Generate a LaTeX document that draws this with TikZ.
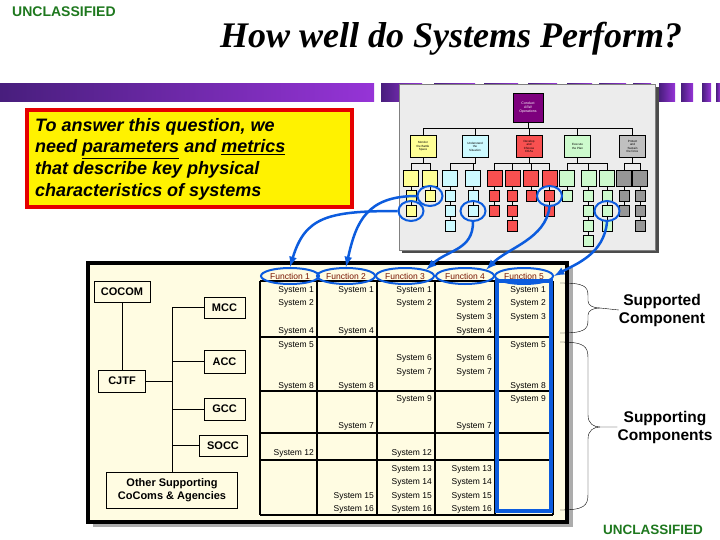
\documentclass[tikz,border=0pt]{standalone}
\usepackage{fontspec}
\setmainfont{Liberation Serif}
\setsansfont{Liberation Sans}
\usetikzlibrary{arrows,shapes.geometric}

\definecolor{uncgreen}{RGB}{30,120,30}
\definecolor{bardark}{RGB}{72,30,125}
\definecolor{barlight}{RGB}{150,52,215}
\definecolor{panelcream}{RGB}{255,252,226}
\definecolor{linkblue}{RGB}{12,92,222}
\definecolor{funcred}{RGB}{120,20,0}
\definecolor{thumbgray}{RGB}{236,236,236}
\definecolor{asyellow}{RGB}{255,255,150}
\definecolor{ascyan}{RGB}{205,250,255}
\definecolor{asred}{RGB}{248,80,80}
\definecolor{asgreen}{RGB}{205,250,205}
\definecolor{asgray}{RGB}{150,150,150}
\definecolor{asgrayhi}{RGB}{192,192,192}
\definecolor{aspurple}{RGB}{125,0,125}

\tikzset{
  mark text/.style={font=\sffamily\bfseries\fontsize{14}{16}\selectfont, text=uncgreen, inner sep=0pt},
  orgbox/.style={draw, line width=1pt, fill=panelcream, inner sep=0pt, align=center,
    font=\sffamily\bfseries\fontsize{11}{13}\selectfont},
  sysname/.style={anchor=east, inner sep=0pt, font=\sffamily\fontsize{8.5}{9}\selectfont},
  funcring/.style={ellipse, draw=linkblue, line width=2pt, minimum width=58pt, minimum height=16pt,
    inner sep=0pt, text=funcred, font=\sffamily\fontsize{8.5}{9}\selectfont},
  pickring/.style={ellipse, draw=linkblue, line width=2pt, minimum width=25pt, minimum height=20pt, inner sep=0pt},
  linkarrow/.style={draw=linkblue, line width=2.5pt, -latex},
  thumbbox/.style={draw, line width=0.5pt, inner sep=0pt, align=center, font=\sffamily\fontsize{3}{3.5}\selectfont},
  thumbmid/.style={thumbbox, minimum width=26pt, minimum height=22pt},
  thumbsub/.style={thumbbox, minimum width=15pt, minimum height=16pt},
  thumbleaf/.style={thumbbox, minimum width=10pt, minimum height=11pt},
  sidelabel/.style={align=center, inner sep=0pt, font=\sffamily\bfseries\fontsize{15.5}{18}\selectfont},
}

\begin{document}
\begin{tikzpicture}[x=1pt,y=-1pt]
\useasboundingbox (0,0) rectangle (720,540);

% header
\node[mark text, anchor=west] (topmark) at (12,12) {UNCLASSIFIED};
\node[anchor=base, inner sep=0pt, font=\bfseries\itshape\fontsize{36}{40}\selectfont] (title) at (451,48) {How well do Systems Perform?};
\shade[left color=bardark, right color=barlight] (0,84) rectangle (374,102);
\foreach \a/\b in {381/422,434/475,484/518,528/557,567/592,599/626,633/651,659/675,681/693,702/711,716/720}
  \shade[left color=bardark, right color=barlight] (\a,84) rectangle (\b,102);

% ASW thumbnail
\fill[gray!60!black] (402,87) rectangle (659,253);
\draw[gray, fill=thumbgray] (399,84) rectangle (655,250);
\node[thumbbox, fill=aspurple, text=white, minimum width=30pt, minimum height=29pt, font=\sffamily\fontsize{3.5}{4}\selectfont] (asw) at (528,107.5) {Conduct\\ASW\\Operations};
\coordinate (bus) at (423,128);
\foreach \nm/\cx/\col/\txt in {ma/423/asyellow/{Monitor\\the Battle\\Space}, mb/475/ascyan/{Understand\\the\\Situation},
    mc/529/asred/{Develop\\and\\Choose\\COAs}, md/577.5/asgreen/{Execute\\the Plan}, me/632.5/asgrayhi/{Protect\\and\\Sustain\\the force}}{
  \node[thumbmid, fill=\col] (\nm) at (\cx,146.5) {\txt};
  \draw[line width=0.8pt] (\nm.north) -- (\nm.north |- bus);
}
\draw[line width=0.8pt] (asw.south) -- (asw.south |- bus);
\draw[line width=0.8pt] (ma.north |- bus) -- (me.north |- bus);
\foreach \nm/\cx/\col/\p/\n in {ya/411/asyellow/ma/2, yb/430/asyellow/ma/1, ca/450/ascyan/mb/3, cb/473/ascyan/mb/2,
    ra/494.5/asred/mc/2, rb/512.5/asred/mc/3, rc/531/asred/mc/1, rd/549.5/asred/mc/2,
    ga/567/asgreen/md/1, gb/588.5/asgreen/md/4, gc/607/asgreen/md/3, ka/624/asgray/me/2, kb/640/asgray/me/3}{
  \node[thumbsub, fill=\col] (\nm) at (\cx,178) {};
  \draw[line width=0.8pt] (\p.south) -- ++(0,6) -| (\nm.north);
  \foreach \k in {1,...,\n}{
    \pgfmathtruncatemacro{\prev}{\k-1}
    \node[thumbleaf, fill=\col] (\nm\k) at (\cx,{181+15*\k}) {};
    \ifnum\k=1 \draw[line width=0.8pt] (\nm.south) -- (\nm\k.north);
    \else \draw[line width=0.8pt] (\nm\prev.south) -- (\nm\k.north); \fi
  }
}

% question box
\draw[line width=4pt, draw=red!90!black, fill=yellow] (27,110) rectangle (352,207);
\node[anchor=north west, align=left, inner sep=0pt, font=\sffamily\bfseries\itshape\fontsize{18}{21.7}\selectfont] (question) at (35,118)
  {To answer this question, we\\need \underline{parameters} and \underline{metrics}\\that describe key physical\\characteristics of systems};

% panel
\fill[gray!65] (93,268) rectangle (573,527);
\draw[line width=4pt, fill=panelcream] (88,263) rectangle (567,522);

% org chart
\node[orgbox, minimum width=56pt, minimum height=21pt] (cocom) at (122,291.5) {COCOM};
\node[orgbox, minimum width=47pt, minimum height=22pt] (cjtf) at (122,381) {CJTF};
\node[orgbox, minimum width=41pt, minimum height=21pt] (mcc) at (224.5,307.5) {MCC};
\node[orgbox, minimum width=41pt, minimum height=23pt] (acc) at (224.5,361.5) {ACC};
\node[orgbox, minimum width=41pt, minimum height=22pt] (gcc) at (224.5,409) {GCC};
\node[orgbox, minimum width=48pt, minimum height=21pt] (socc) at (223,445.5) {SOCC};
\node[orgbox, minimum width=131pt, minimum height=36pt] (other) at (172,490) {Other Supporting\\CoComs \& Agencies};
\draw[line width=1pt] (cocom) -- (cjtf);
\draw[line width=1pt] (mcc.west) -| (other.north);
\draw[line width=1pt] (cjtf.east) -- (cjtf.east -| other.north);
\foreach \b in {acc,gcc,socc}
  \draw[line width=1pt] (\b.west) -- (\b.west -| other.north);

% table
\foreach \x in {260,317,377,435,495,553}
  \draw[line width=1.5pt] (\x,281) -- (\x,515);
\draw[line width=1.5pt] (260,281) -- (553,281);
\draw[line width=1.2pt] (260,337) -- (553,337);
\draw[line width=2.6pt] (260,391) -- (553,391);
\draw[line width=1.6pt] (260,433) -- (553,433);
\draw[line width=2.6pt] (260,460) -- (553,460);
\draw[line width=1.6pt] (260,515) -- (553,515);

\foreach \cx/\rows in {314/{290/1,303/2,331/4,345/5,386/8,453/12},
    374/{290/1,331/4,386/8,426/7,496/15,509/16},
    432/{290/1,303/2,358/6,372/7,399/9,453/12,469/13,482/14,496/15,509/16},
    492/{303/2,317/3,331/4,358/6,372/7,426/7,469/13,482/14,496/15,509/16},
    546/{290/1,303/2,317/3,345/5,386/8,399/9}}
  \foreach \y/\s in \rows
    \node[sysname] (s-\cx-\y) at (\cx,\y) {System \s};

\draw[draw=linkblue, line width=4pt] (497,281) rectangle (551,511);

\foreach \i/\x in {1/290,2/346,3/405,4/465,5/524}
  \node[funcring] (fn\i) at (\x,276) {Function \i};

% links from the thumbnail
\node[pickring] (pick1) at (ya2) {};
\node[pickring] (pick2) at (yb1) {};
\node[pickring] (pick3) at (cb2) {};
\node[pickring] (pick4) at (rd1) {};
\node[pickring] (pick5) at (gc2) {};
\draw[linkarrow] (pick1.west) .. controls +(-70,0) and +(15,-50) .. (fn1.north);
\draw[linkarrow] (pick2.west) .. controls +(-50,0) and +(10,-45) .. (fn2.north);
\draw[linkarrow] (pick3.south) .. controls +(0,28) and +(22,-20) .. (fn3.north east);
\draw[linkarrow] (pick4.south) .. controls +(-4,32) and +(22,-22) .. (fn4.north east);
\draw[linkarrow] (pick5.south) .. controls +(-3,32) and +(22,-12) .. (fn5.east);

% braces
\node[sidelabel] (supd) at (662,310) {Supported\\Component};
\node[sidelabel] (supg) at (665,427) {Supporting\\Components};
\draw (560,283) .. controls (584,283) and (588,286) .. (588,296) -- (588,301) .. controls (588,306) and (594,308) .. (600,308) -- (supd.west);
\draw (560,333) .. controls (584,333) and (588,330) .. (588,320) -- (588,315) .. controls (588,310) and (594,308) .. (600,308);
\draw (560,342) .. controls (584,342) and (588,346) .. (588,358) -- (588,415) .. controls (588,424) and (594,427) .. (600,427) -- (supg.west);
\draw (560,510) .. controls (584,510) and (588,506) .. (588,494) -- (588,439) .. controls (588,430) and (594,427) .. (600,427);

\node[mark text, font=\sffamily\bfseries\fontsize{13.5}{15}\selectfont] (bottommark) at (653,530) {UNCLASSIFIED};
\end{tikzpicture}
\end{document}
